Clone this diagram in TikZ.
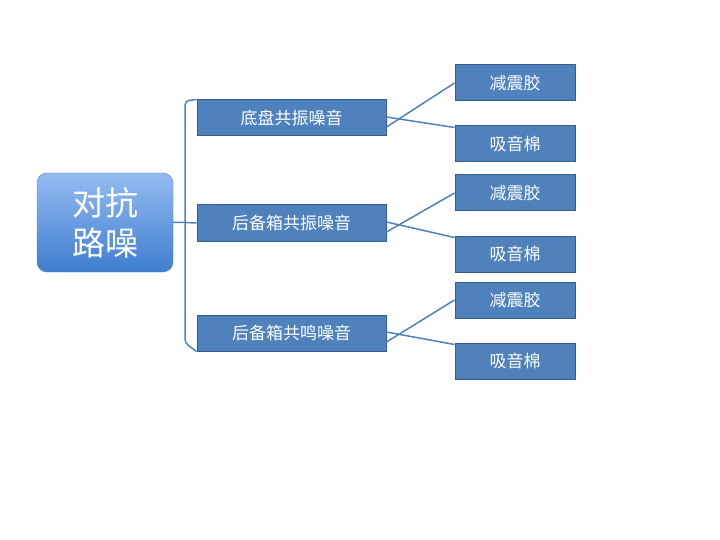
\documentclass[tikz,border=0pt]{standalone}
\usepackage{fontspec}
\newfontfamily\cjk{Noto Sans CJK SC}
\usetikzlibrary{positioning}
\definecolor{boxblue}{HTML}{4F81BD}
\definecolor{boxedge}{HTML}{385D8A}
\definecolor{rootlight}{HTML}{93BCF2}
\definecolor{rootdark}{HTML}{3F7DD0}
\tikzset{%
  % node styles
      rootbox/.style = {rectangle, rounded corners=10pt, draw=boxblue, top color=rootlight,
                        bottom color=rootdark, minimum width=136pt, minimum height=99pt,
                        text=white, align=center, font=\cjk\fontsize{33}{40}\selectfont},
       midbox/.style = {rectangle, draw=boxedge, line width=1pt, fill=boxblue, minimum width=189pt,
                        minimum height=36pt, text=white, font=\cjk\fontsize{17}{20}\selectfont},
      leafbox/.style = {midbox, minimum width=120pt},
         link/.style = {draw=boxblue, line width=1.5pt},
}
\begin{document}
\begin{tikzpicture}[x=1pt, y=-1pt]
  \useasboundingbox (0,0) rectangle (720,540);
  \node (root)  [rootbox] at (105,222.5) {对抗\\路噪};
  \node (chassis) [midbox] at (291.5,118) {底盘共振噪音};
  \node (trunkA)  [midbox] at (291.5,223) {后备箱共振噪音};
  \node (trunkB)  [midbox] at (291.5,333) {后备箱共鸣噪音};
  \node (dampA) [leafbox] at (515,83)  {减震胶};
  \node (foamA) [leafbox] at (515,144) {吸音棉};
  \node (dampB) [leafbox] at (515,193) {减震胶};
  \node (foamB) [leafbox] at (515,254) {吸音棉};
  \node (dampC) [leafbox] at (515,300) {减震胶};
  \node (foamC) [leafbox] at (515,361) {吸音棉};

  \coordinate (fork) at (185,222.5);
  \draw[link] (root.east) -- (fork) -- (trunkA.west);
  \draw[link, rounded corners=4pt] (chassis.north west) -- (185,101) -- (185,343) -- (trunkB.south west);

  \foreach \mid/\up/\down in {chassis/dampA/foamA, trunkA/dampB/foamB, trunkB/dampC/foamC} {
    \draw[link] ([yshift=-9pt]\mid.east) -- (\up.west);
    \draw[link] ([yshift=1pt]\mid.east) -- ([yshift=-2pt]\down.north west);
  }
\end{tikzpicture}
\end{document}
